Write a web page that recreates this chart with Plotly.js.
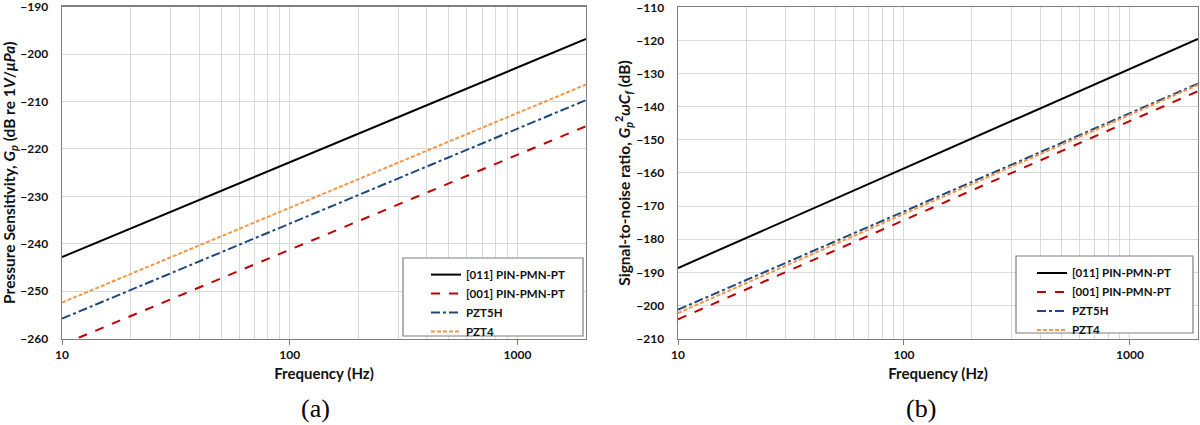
<!DOCTYPE html>
<html>
<head>
<meta charset="utf-8">
<script src="https://cdn.plot.ly/plotly-3.0.1.min.js"></script>
<style>
  html, body { margin: 0; padding: 0; background: #fff; }
  #myDiv { width: 1200px; height: 425px; }
</style>
</head>
<body>
<div id="myDiv"></div>
<script>
// frequency end points (Hz)
var freq = [10, 2000];

// (a) pressure sensitivity, dB re 1V/uPa
var sens011 = [-242.8, -196.8];
var sens001 = [-261.3, -215.2];
var sensPZT5H = [-255.8, -209.7];
var sensPZT4 = [-252.4, -206.4];

// (b) signal-to-noise ratio, dB
var snr011 = [-188.7, -119.5];
var snr001 = [-204.2, -135.3];
var snrPZT5H = [-201.3, -133.0];
var snrPZT4 = [-202.3, -133.4];

var names = ['[011] PIN-PMN-PT', '[001] PIN-PMN-PT', 'PZT5H', 'PZT4'];
var colors = ['#000000', '#c00000', '#1f497d', '#f79646'];
var dashes = ['solid', 'dash', 'dashdot', '4px,2px'];

var minorVals = [20, 30, 40, 50, 60, 70, 80, 90, 200, 300, 400, 500, 600, 700, 800, 900, 2000];
var fam = 'Lato, Liberation Sans, sans-serif';
var tickFont = {family: fam, size: 12, color: '#111', weight: 'bold'};

function mk(y, i, xa, ya, lg) {
  return {
    x: freq, y: y, mode: 'lines', name: names[i],
    xaxis: xa, yaxis: ya, legend: lg,
    line: {color: colors[i], dash: dashes[i], width: 2}
  };
}

var data = [
  mk(sens011, 0, 'x', 'y', 'legend'),
  mk(sens001, 1, 'x', 'y', 'legend'),
  mk(sensPZT5H, 2, 'x', 'y', 'legend'),
  mk(sensPZT4, 3, 'x', 'y', 'legend'),
  mk(snr011, 0, 'x2', 'y2', 'legend2'),
  mk(snr001, 1, 'x2', 'y2', 'legend2'),
  mk(snrPZT5H, 2, 'x2', 'y2', 'legend2'),
  mk(snrPZT4, 3, 'x2', 'y2', 'legend2')
];

function xax(dom, anchor) {
  return {
    domain: dom, anchor: anchor, type: 'log',
    range: [1, Math.log10(2000)],
    tickvals: [10, 100, 1000], ticktext: ['10', '100', '1000'],
    ticks: 'outside', ticklen: 5, tickcolor: '#7f7f7f',
    showgrid: true, gridcolor: '#d9d9d9', gridwidth: 1,
    minor: {tickvals: minorVals, showgrid: true, gridcolor: '#d9d9d9', ticks: ''},
    showline: true, linecolor: '#7f7f7f', linewidth: 1.5, mirror: true,
    tickfont: tickFont, zeroline: false, ticklabeloverflow: 'allow',
    title: {text: 'Frequency (Hz)', font: {family: fam, size: 15, color: '#111', weight: 'bold'}, standoff: 7}
  };
}

function yax(dom, anchor, range, dtick, title) {
  return {
    domain: dom, anchor: anchor, range: range, dtick: dtick,
    ticks: '', ticklabelstandoff: 10, ticklabeloverflow: 'allow',
    showgrid: true, gridcolor: '#d9d9d9', gridwidth: 1,
    showline: true, linecolor: '#7f7f7f', linewidth: 1.5, mirror: true,
    tickfont: tickFont, zeroline: false,
    title: {text: title, font: {family: fam, size: 15.5, color: '#111', weight: 'bold'}, standoff: 2}
  };
}

var legendBase = {
  bgcolor: 'rgba(0,0,0,0)', borderwidth: 0,
  font: {family: fam, size: 11.5, color: '#111', weight: 'bold'},
  tracegroupgap: 0, itemwidth: 30, xanchor: 'left', yanchor: 'top'
};

var layout = {
  width: 1200, height: 425,
  margin: {l: 0, r: 0, t: 0, b: 0},
  paper_bgcolor: '#fff', plot_bgcolor: '#fff',
  showlegend: true,
  xaxis: xax([0.0517, 0.4883], 'y'),
  yaxis: yax([0.2035, 0.984], 'x', [-260, -190], 10,
    'Pressure Sensitivity, <i>G<sub>p</sub></i> (dB re 1<i>V</i>/<i>μPa</i>)'),
  xaxis2: xax([0.565, 0.9983], 'y2'),
  yaxis2: yax([0.2035, 0.9825], 'x2', [-210, -110], 10,
    'Signal-to-noise ratio, <i>G<sub>p</sub></i><sup>2</sup><i>ωC<sub>f</sub></i> (dB)'),
  legend: Object.assign({}, legendBase, {x: 0.355, y: 0.388}),
  legend2: Object.assign({}, legendBase, {x: 0.86, y: 0.392}),
  shapes: [
    {type: 'rect', xref: 'paper', yref: 'paper', x0: 403 / 1200, x1: 583 / 1200,
     y0: 1 - 336 / 425, y1: 1 - 258 / 425, fillcolor: '#fff',
     line: {color: '#7f7f7f', width: 1.2}, layer: 'above'},
    {type: 'rect', xref: 'paper', yref: 'paper', x0: 1016 / 1200, x1: 1193 / 1200,
     y0: 1 - 333 / 425, y1: 1 - 256 / 425, fillcolor: '#fff',
     line: {color: '#7f7f7f', width: 1.2}, layer: 'above'}
  ],
  annotations: [
    {text: '(a)', xref: 'paper', yref: 'paper', x: 316 / 1200, y: 1 - 408 / 425,
     xanchor: 'center', yanchor: 'middle',
     showarrow: false, font: {family: 'Liberation Serif, serif', size: 26, color: '#000'}},
    {text: '(b)', xref: 'paper', yref: 'paper', x: 921 / 1200, y: 1 - 408 / 425,
     xanchor: 'center', yanchor: 'middle',
     showarrow: false, font: {family: 'Liberation Serif, serif', size: 26, color: '#000'}}
  ]
};

Plotly.newPlot('myDiv', data, layout, {staticPlot: true});
</script>
</body>
</html>
